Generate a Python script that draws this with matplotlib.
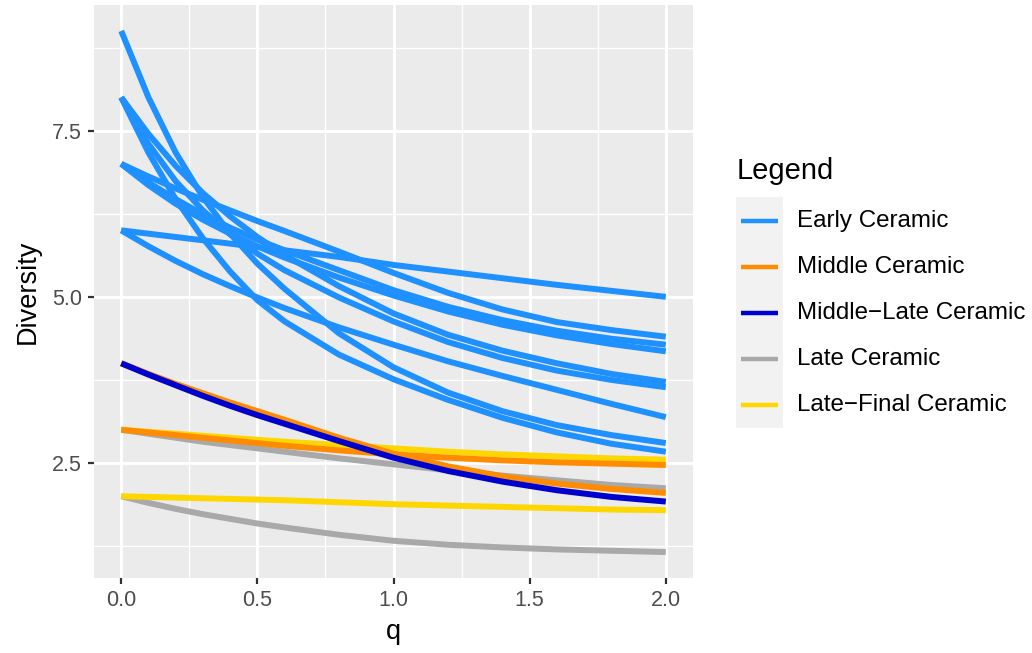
import matplotlib
matplotlib.use("Agg")
import matplotlib.pyplot as plt
from matplotlib.lines import Line2D
from matplotlib.patches import Rectangle

plt.rcParams["font.family"] = ["Liberation Sans", "DejaVu Sans"]

W, H = 1032, 653

# q grid at which the diversity profiles were read
q = [0.0, 0.1, 0.2, 0.3, 0.4, 0.5, 0.6, 0.8, 1.0, 1.2, 1.4, 1.6, 1.8, 2.0]

early = [
    [6.00, 5.95, 5.90, 5.85, 5.80, 5.75, 5.70, 5.60, 5.48, 5.38, 5.28, 5.18, 5.09, 5.00],
    [7.00, 6.81, 6.63, 6.46, 6.30, 6.14, 5.99, 5.68, 5.36, 5.06, 4.81, 4.62, 4.50, 4.40],
    [7.00, 6.72, 6.47, 6.24, 6.04, 5.86, 5.70, 5.40, 5.10, 4.85, 4.65, 4.49, 4.37, 4.28],
    [7.00, 6.68, 6.40, 6.16, 5.95, 5.76, 5.59, 5.29, 5.02, 4.78, 4.58, 4.42, 4.29, 4.18],
    [8.00, 7.45, 6.97, 6.56, 6.21, 5.90, 5.63, 5.16, 4.75, 4.43, 4.19, 4.00, 3.84, 3.72],
    [8.00, 7.30, 6.74, 6.30, 5.94, 5.65, 5.40, 4.99, 4.63, 4.32, 4.08, 3.89, 3.75, 3.64],
    [6.00, 5.76, 5.54, 5.34, 5.16, 4.99, 4.83, 4.54, 4.28, 4.03, 3.81, 3.60, 3.39, 3.19],
    [9.00, 8.00, 7.17, 6.50, 5.95, 5.50, 5.12, 4.45, 3.94, 3.56, 3.28, 3.07, 2.92, 2.80],
    [8.00, 7.17, 6.47, 5.88, 5.38, 4.95, 4.63, 4.13, 3.76, 3.45, 3.18, 2.96, 2.79, 2.67],
]
late = [
    [3.00, 2.94, 2.88, 2.82, 2.77, 2.72, 2.67, 2.57, 2.48, 2.39, 2.31, 2.24, 2.17, 2.12],
    [2.00, 1.90, 1.81, 1.73, 1.66, 1.59, 1.53, 1.42, 1.33, 1.27, 1.23, 1.20, 1.18, 1.16],
]
late_final = [
    [3.00, 2.97, 2.94, 2.91, 2.88, 2.85, 2.82, 2.77, 2.72, 2.67, 2.63, 2.60, 2.57, 2.55],
    [2.00, 1.99, 1.98, 1.97, 1.96, 1.95, 1.94, 1.91, 1.88, 1.86, 1.84, 1.82, 1.80, 1.79],
]
middle = [
    [4.00, 3.84, 3.69, 3.55, 3.41, 3.28, 3.15, 2.88, 2.64, 2.45, 2.30, 2.19, 2.11, 2.05],
    [3.00, 2.96, 2.92, 2.88, 2.84, 2.80, 2.76, 2.69, 2.63, 2.58, 2.54, 2.51, 2.49, 2.47],
]
middle_late = [
    [4.00, 3.83, 3.67, 3.51, 3.36, 3.22, 3.09, 2.83, 2.58, 2.38, 2.22, 2.09, 1.99, 1.92],
]

periods = ["Early Ceramic", "Middle Ceramic", "Middle\u2212Late Ceramic",
           "Late Ceramic", "Late\u2212Final Ceramic"]
colors = ["#1E90FF", "#FF8C00", "#0000CD", "#A9A9A9", "#FFD700"]

# drawing order (later on top)
draw_order = [
    (early, colors[0]),
    (late, colors[3]),
    (late_final, colors[4]),
    (middle, colors[1]),
    (middle_late, colors[2]),
]

fig = plt.figure(figsize=(W / 100, H / 100), dpi=100)
ax = fig.add_axes([94 / W, 1 - 578 / H, (693 - 94) / W, (578 - 5) / H])
ax.set_facecolor("#EBEBEB")
for s in ax.spines.values():
    s.set_visible(False)

ax.set_xlim(-0.1, 2.1)
ax.set_ylim(0.77, 9.39)
ax.set_xticks([0, 0.5, 1.0, 1.5, 2.0])
ax.set_xticks([0.25, 0.75, 1.25, 1.75], minor=True)
ax.set_yticks([2.5, 5.0, 7.5])
ax.set_yticks([1.25, 3.75, 6.25, 8.75], minor=True)
ax.grid(which="major", color="white", lw=2.1)
ax.grid(which="minor", color="white", lw=1.0)
ax.set_axisbelow(True)
ax.tick_params(which="major", length=4.5, width=1.6, color="#333333",
               labelsize=15.5, labelcolor="#4D4D4D", pad=4)
ax.tick_params(which="minor", length=0)

for group, col in draw_order:
    for vals in group:
        ax.plot(q, vals, color=col, lw=4.3, solid_capstyle="butt", solid_joinstyle="round")

ax.set_xlabel("q", fontsize=19.5, labelpad=6)
ax.set_ylabel("Diversity", fontsize=19.5, labelpad=8)


def fx(x):
    return x / W


def fy(y):
    return 1 - y / H


# legend, drawn in pixel positions of the figure
fig.text(fx(737), fy(171), "Legend", fontsize=21, va="center", ha="left")
fig.add_artist(Rectangle((fx(736), fy(428)), (783 - 736) / W, (428 - 197) / H,
                         transform=fig.transFigure, facecolor="#F2F2F2", edgecolor="none"))
for i, (lab, col) in enumerate(zip(periods, colors)):
    yc = 221 + 46 * i
    fig.add_artist(Line2D([fx(741), fx(778)], [fy(yc), fy(yc)], transform=fig.transFigure,
                          color=col, lw=3.2, solid_capstyle="butt"))
    fig.text(fx(797), fy(yc), lab, fontsize=17.4, va="center", ha="left")

fig.savefig("out.png", dpi=100, facecolor="white")
